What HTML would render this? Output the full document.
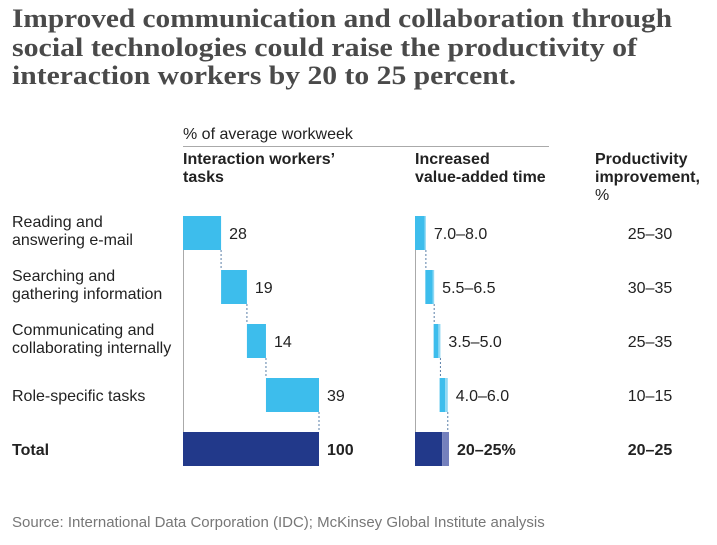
<!DOCTYPE html>
<html><head><meta charset="utf-8"><style>
body{margin:0;background:#fff;width:717px;height:540px;overflow:hidden}
svg text{font-family:"Liberation Sans",Arial,sans-serif;fill:#222}
</style></head><body>
<svg id="chart" width="717" height="540">
<g style="font-weight:bold;font-size:26px">
<text x="12" y="27" style="font-family:'Liberation Serif',serif;fill:#4a4a4a" textLength="660" lengthAdjust="spacingAndGlyphs">Improved communication and collaboration through</text>
<text x="12" y="56" style="font-family:'Liberation Serif',serif;fill:#4a4a4a" textLength="625" lengthAdjust="spacingAndGlyphs">social technologies could raise the productivity of</text>
<text x="12" y="84" style="font-family:'Liberation Serif',serif;fill:#4a4a4a" textLength="504" lengthAdjust="spacingAndGlyphs">interaction workers by 20 to 25 percent.</text>
</g>
<text x="183" y="139" font-size="16">% of average workweek</text>
<line x1="183" y1="146.5" x2="549" y2="146.5" stroke="#aaa"/>
<g font-size="16" font-weight="bold">
<text x="183" y="164">Interaction workers’</text><text x="183" y="182">tasks</text>
<text x="415" y="164">Increased</text><text x="415" y="182">value-added time</text>
<text x="595" y="164">Productivity</text><text x="595" y="182">improvement,</text><text x="595" y="200" font-weight="normal">%</text>
</g>
<g id="marks"></g>
<text x="12" y="527" font-size="15" style="fill:#777">Source: International Data Corporation (IDC); McKinsey Global Institute analysis</text>
</svg>
<script>
const categories=[["Reading and","answering e-mail"],["Searching and","gathering information"],["Communicating and","collaborating internally"],["Role-specific tasks"]];
const taskShares=[28,19,14,39];
const valueLow=[7.0,5.5,3.5,4.0];
const valueHigh=[8.0,6.5,5.0,6.0];
const valueLabels=["7.0–8.0","5.5–6.5","3.5–5.0","4.0–6.0"];
const productivityLabels=["25–30","30–35","25–35","10–15"];
const totalShare=100, totalLow=20, totalHigh=25;
const totalValueLabel="20–25%", totalProdLabel="20–25";

const ns="http://www.w3.org/2000/svg";
const g=document.getElementById('marks');
const sx=v=>v*1.36;
const rowY=i=>216+i*54;
const BH=34;
const FS=16;
function el(t,a,txt){const e=document.createElementNS(ns,t);for(const k in a)e.setAttribute(k,a[k]);if(txt!==undefined)e.textContent=txt;g.appendChild(e);return e;}
const L0=183,R0=415;
const ax1=el('line',{x1:L0+.5,y1:216,x2:L0+.5,y2:466,stroke:'#aaa'});


const ax2=el('line',{x1:R0+.5,y1:216,x2:R0+.5,y2:466,stroke:'#aaa'});


let cum=0,cumR=0;
categories.forEach((c,i)=>{
  const y=rowY(i);
  c.forEach((ln,j)=>{const t=el('text',{x:12,y:y+(c.length==1?23:11+j*18),'font-size':FS},ln);
    
    });
  const x=L0+sx(cum),w=sx(taskShares[i]);
  const b=el('rect',{x:x,y:y,width:w,height:BH,fill:'#3dbdec'});
  
  
  const lt=el('text',{x:x+w+8,y:y+23,'font-size':FS},String(taskShares[i]));
  
  
  cum+=taskShares[i];
  const d=el('line',{x1:L0+sx(cum),y1:y+BH,x2:L0+sx(cum),y2:y+54,stroke:'#5a7fa8','stroke-dasharray':'2,2'});
  
  
  const rx=R0+sx(cumR);
  const b1=el('rect',{x:rx,y:y,width:sx(valueLow[i]),height:BH,fill:'#3dbdec'});
  
  
  const b2=el('rect',{x:rx+sx(valueLow[i]),y:y,width:sx(valueHigh[i]-valueLow[i]),height:BH,fill:'#8fd8f4'});
  
  
  const rEnd=rx+sx(valueHigh[i]);
  const vt=el('text',{x:rEnd+8,y:y+23,'font-size':FS},valueLabels[i]);
  
  
  const d2=el('line',{x1:rEnd,y1:y+BH,x2:rEnd,y2:y+54,stroke:'#5a7fa8','stroke-dasharray':'2,2'});
  
  
  cumR+=valueLow[i]+ (valueHigh[i]-valueLow[i])*0.6;
  const pt=el('text',{x:650,y:y+23,'font-size':FS,'text-anchor':'middle'},productivityLabels[i]);
  
  
});
const ty=rowY(4);
const tl=el('text',{x:12,y:ty+23,'font-size':FS,'font-weight':'bold'},'Total');


const tb=el('rect',{x:L0,y:ty,width:sx(totalShare),height:BH,fill:'#22398a'});


const tv=el('text',{x:L0+sx(totalShare)+8,y:ty+23,'font-size':FS,'font-weight':'bold'},String(totalShare));


const tr1=el('rect',{x:R0,y:ty,width:sx(totalLow),height:BH,fill:'#22398a'});


const tr2=el('rect',{x:R0+sx(totalLow),y:ty,width:sx(totalHigh-totalLow),height:BH,fill:'#7480bd'});


const tvl=el('text',{x:R0+sx(totalHigh)+8,y:ty+23,'font-size':FS,'font-weight':'bold'},totalValueLabel);


const tp=el('text',{x:650,y:ty+23,'font-size':FS,'font-weight':'bold','text-anchor':'middle'},totalProdLabel);


</script>
</body></html>
